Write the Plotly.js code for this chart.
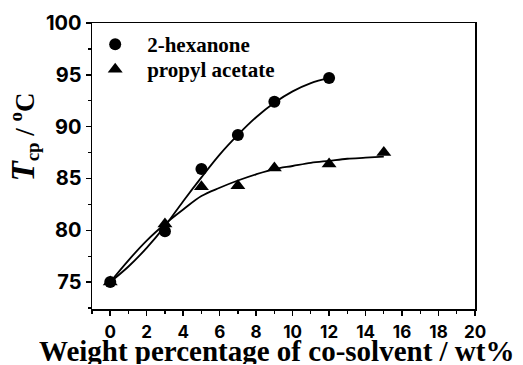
<!DOCTYPE html>
<html>
<head>
<meta charset="utf-8">
<script src="https://cdn.plot.ly/plotly-3.0.1.min.js"></script>
<style>html,body{margin:0;padding:0;background:#fff;}#chart{width:523px;height:365px;}</style>
</head>
<body>
<div id="chart"></div>
<script>
// Measured data points
const hexX = [0, 3, 5, 7, 9, 12];
const hexY = [75, 79.9, 85.9, 89.2, 92.4, 94.7];
const propX = [0, 3, 5, 7, 9, 12, 15];
const propY = [75, 80.6, 84.2, 84.3, 86.0, 86.4, 87.5];
// Fitted curves
const hexFitX = [0, 1, 2, 3, 4, 5, 6, 7, 8, 9, 10, 11, 12];
const hexFitY = [75, 76.5, 78.3, 80.4, 82.8, 85.1, 87.3, 89.2, 90.9, 92.3, 93.4, 94.2, 94.7];
const propFitX = [0, 1, 2, 3, 4, 5, 6, 7, 8, 9, 10, 11, 12, 13, 14, 15];
const propFitY = [75, 77.1, 79.0, 80.6, 82.0, 83.3, 84.1, 84.8, 85.4, 85.9, 86.2, 86.5, 86.7, 86.9, 87.0, 87.1];
const xTicks = [0, 2, 4, 6, 8, 10, 12, 14, 16, 18, 20];
const yTicks = [75, 80, 85, 90, 95, 100];
const xTitle = 'Weight percentage of co-solvent / wt%';
const yTitle = '<span style="font-size:33px"><i>T</i></span><sub>cp</sub> / <sup>o</sup>C';

const traces = [
  {x: hexFitX, y: hexFitY, mode: 'lines', line: {color: '#000', width: 1.8, shape: 'spline'}, showlegend: false, hoverinfo: 'skip'},
  {x: propFitX, y: propFitY, mode: 'lines', line: {color: '#000', width: 1.8, shape: 'spline'}, showlegend: false, hoverinfo: 'skip'},
  {x: hexX, y: hexY, mode: 'markers', name: '2-hexanone', legend: 'legend', marker: {symbol: 'circle', size: 12, color: '#000'}},
  {x: propX, y: propY, mode: 'markers', name: 'propyl acetate', legend: 'legend2', marker: {symbol: 'triangle-up', size: 13, color: '#000'}}
];

const serif = '"Liberation Serif", "Times New Roman", serif';
const sans = 'Inter, "DejaVu Sans", sans-serif';

const axCommon = {
  showline: true, linecolor: '#000', linewidth: 1.5, mirror: true,
  ticks: 'outside', ticklen: 5, tickwidth: 1.5, tickcolor: '#000',
  showgrid: false, zeroline: false
};

const legCommon = {xanchor: 'left', yanchor: 'top', bgcolor: 'rgba(0,0,0,0)',
  font: {family: serif, size: 21, color: '#000', weight: 'bold'}, itemwidth: 54};

const layout = {
  width: 523, height: 365,
  margin: {l: 92, r: 48, t: 23, b: 56},
  paper_bgcolor: '#fff', plot_bgcolor: '#fff',
  showlegend: true,
  legend: Object.assign({}, legCommon, {x: -0.023, y: 0.9965}),
  legend2: Object.assign({}, legCommon, {x: -0.023, y: 0.909}),
  xaxis: Object.assign({}, axCommon, {
    range: [-1, 20], tickvals: xTicks, ticktext: xTicks.map(String),
    tickfont: {family: sans, size: 17, color: '#000', weight: 'bold'},
    ticklabelstandoff: 2,
    minor: {ticks: 'outside', ticklen: 3, tickwidth: 1.2, tickcolor: '#000', dtick: 1, tick0: 0}
  }),
  yaxis: Object.assign({}, axCommon, {
    range: [72.4, 100], tickvals: yTicks, ticktext: yTicks.map(String),
    tickfont: {family: sans, size: 20, color: '#000', weight: 'bold'},
    minor: {ticks: 'outside', ticklen: 3, tickwidth: 1.2, tickcolor: '#000', dtick: 2.5, tick0: 72.5}
  }),
  annotations: [
    {text: xTitle, xref: 'paper', yref: 'paper', x: 0.4817, y: -0.146, xanchor: 'center', yanchor: 'middle',
      height: 26, showarrow: false, font: {family: serif, size: 29, color: '#000', weight: 'bold'}},
    {text: yTitle, xref: 'paper', yref: 'paper', x: -0.1775, y: 0.5997, xanchor: 'center', yanchor: 'middle',
      textangle: -90, showarrow: false, font: {family: serif, size: 27, color: '#000', weight: 'bold'}}
  ]
};

Plotly.newPlot('chart', traces, layout, {displayModeBar: false, staticPlot: true});
</script>
</body>
</html>
